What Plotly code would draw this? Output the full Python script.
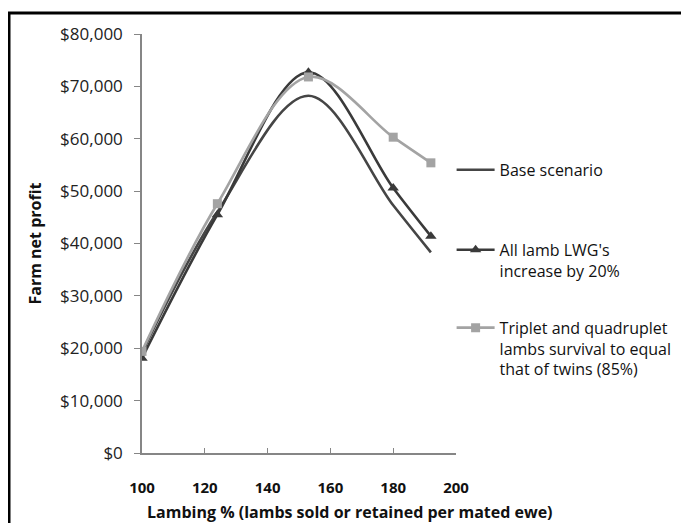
import plotly.graph_objects as go

lambing = [100, 124, 153, 180, 192]
base_scenario = [19200, 46000, 68200, 47300, 38300]
lwg_increase = [18100, 45500, 72700, 50600, 41400]
triplet_survival = [19400, 47600, 71800, 60300, 55400]

series_names = [
    "Base scenario",
    "All lamb LWG's<br>increase by 20%",
    "Triplet and quadruplet<br>lambs survival to equal<br>that of twins (85%)",
]

y_ticks = list(range(0, 80001, 10000))
x_ticks = [100, 120, 140, 160, 180, 200]

fig = go.Figure()
fig.add_trace(go.Scatter(
    x=lambing, y=base_scenario, name=series_names[0], mode="lines",
    line=dict(color="#454545", width=2.6, shape="spline", smoothing=1.0),
    legend="legend"))
fig.add_trace(go.Scatter(
    x=lambing, y=lwg_increase, name=series_names[1], mode="lines+markers",
    line=dict(color="#3a3a3a", width=2.6, shape="spline", smoothing=1.0),
    marker=dict(symbol="triangle-up", size=10, color="#3a3a3a"),
    legend="legend2"))
fig.add_trace(go.Scatter(
    x=lambing, y=triplet_survival, name=series_names[2], mode="lines+markers",
    line=dict(color="#a3a3a3", width=2.6, shape="spline", smoothing=1.0),
    marker=dict(symbol="square", size=9, color="#a3a3a3"),
    legend="legend3"))

OFF = 8
PL, PR, PT, PB = 142, 456, 34, 453.4
W, H = 689, 523

def ypaper(px):
    return (PB - px) / (PB - PT)

def xpaper(px):
    return (px - PL) / (PR - PL)

legend_font = dict(family="Open Sans", size=16, color="#111111")
def leg(top_px):
    return dict(x=0.986, y=ypaper(top_px), xanchor="left", yanchor="top",
                font=legend_font, valign="top", itemwidth=38,
                bgcolor="rgba(0,0,0,0)")

fig.update_layout(
    width=W, height=H,
    margin=dict(l=PL - OFF, r=W - (PR - OFF), t=PT - OFF, b=H - (PB - OFF),
                autoexpand=False),
    paper_bgcolor="white", plot_bgcolor="white",
    font=dict(family="Open Sans", size=14, color="#222222"),
    showlegend=True,
    legend=leg(153), legend2=leg(233), legend3=leg(311),
    xaxis=dict(
        range=[100, 200], tickvals=x_ticks, ticks="inside", ticklen=5,
        tickcolor="#868686", showline=True, linecolor="#868686", linewidth=1.5,
        showgrid=False, zeroline=False, ticklabelstandoff=20,
        tickfont=dict(family="Open Sans", size=15, color="#111111", weight="bold"),
    ),
    yaxis=dict(
        range=[0, 80000], tickvals=y_ticks, tickformat="$,.0f",
        ticks="outside", ticklen=6, tickcolor="#868686",
        showline=True, linecolor="#868686", linewidth=1.5,
        showgrid=False, zeroline=False, ticklabelstandoff=8,
        tickfont=dict(family="Open Sans", size=17, color="#222222"),
    ),
    shapes=[dict(type="rect", xref="paper", yref="paper",
                 x0=xpaper(9), x1=1.9, y0=-0.4, y1=ypaper(13),
                 line=dict(color="black", width=3), layer="below")],
    annotations=[
        dict(text="<b>Lambing % (lambs sold or retained per mated ewe)</b>",
             xref="paper", yref="paper", x=xpaper(350), y=ypaper(512),
             xanchor="center", yanchor="middle", showarrow=False,
             font=dict(family="Open Sans", size=16, color="#111111")),
        dict(text="<b>Farm net profit</b>", textangle=-90,
             xref="paper", yref="paper", x=xpaper(34), y=0.5, xanchor="center",
             yanchor="middle", showarrow=False,
             font=dict(family="Open Sans", size=16, color="#111111")),
    ],
)

fig.write_html("out.html")
